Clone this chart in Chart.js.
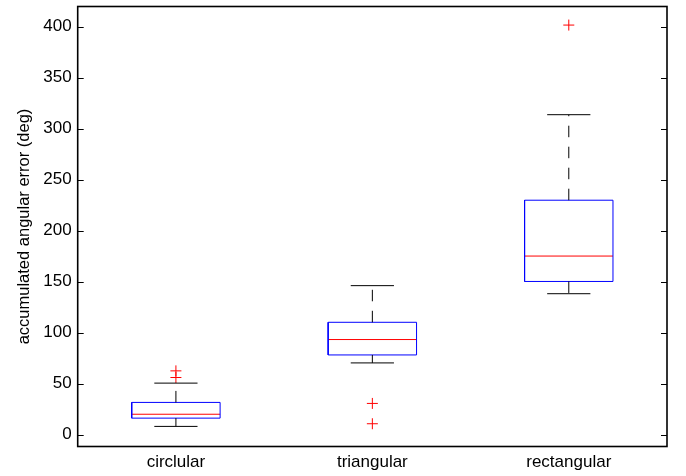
<!DOCTYPE html>
<html>
<head>
<meta charset="utf-8">
<script src="https://cdn.jsdelivr.net/npm/chart.js@4/dist/chart.umd.min.js"></script>
<style>
  html, body { margin: 0; padding: 0; background: #fff; }
  canvas { display: block; }
</style>
</head>
<body>
<canvas id="c" width="686" height="476"></canvas>
<script>
// Box plot summary per shape (deg)
const categories = ['circlular', 'triangular', 'rectangular'];
const whiskerLow = [8.2, 70.4, 138.2];
const q1 = [16.3, 78.2, 150.2];
const median = [20.1, 93.3, 175.1];
const q3 = [31.7, 110.2, 229.8];
const whiskerHigh = [50.6, 146.1, 313.6];
const outliers = [[56.1, 62.6], [10.8, 30.7], [401.4]];
const yTicks = [0, 50, 100, 150, 200, 250, 300, 350, 400];

// Drawing geometry in category units
const boxHalf = 0.225;
const capHalf = 0.11;

// Build a line-segment series with gaps between segments
function segments(list) {
  const out = [];
  list.forEach(([x1, y1, x2, y2]) => {
    out.push({x: x1, y: y1}, {x: x2, y: y2}, {x: x2, y: null});
  });
  return out;
}

const boxes = [];
categories.forEach((_, i) => {
  const x = i + 1;
  boxes.push({x: x - boxHalf, y: q1[i]}, {x: x + boxHalf, y: q1[i]},
             {x: x + boxHalf, y: q3[i]}, {x: x - boxHalf, y: q3[i]},
             {x: x - boxHalf, y: q1[i]}, {x: x - boxHalf, y: null});
});
const medians = segments(categories.map((_, i) => [i + 1 - boxHalf, median[i], i + 1 + boxHalf, median[i]]));
const whiskers = segments(categories.flatMap((_, i) => [
  [i + 1, q3[i], i + 1, whiskerHigh[i]],
  [i + 1, q1[i], i + 1, whiskerLow[i]]
]));
const caps = segments(categories.flatMap((_, i) => [
  [i + 1 - capHalf, whiskerHigh[i], i + 1 + capHalf, whiskerHigh[i]],
  [i + 1 - capHalf, whiskerLow[i], i + 1 + capHalf, whiskerLow[i]]
]));
const outlierPoints = outliers.flatMap((vals, i) => vals.map(v => ({x: i + 1, y: v})));

const lineBase = { type: 'line', pointRadius: 0, borderWidth: 1, tension: 0, spanGaps: false, fill: false };

// Frame plus inward tick marks on both vertical sides
const framePlugin = {
  id: 'frame',
  afterDraw(chart) {
    const {ctx, chartArea: a, scales: {y}} = chart;
    ctx.save();
    ctx.strokeStyle = '#000';
    ctx.lineWidth = 1;
    ctx.beginPath();
    yTicks.forEach(v => {
      const p = Math.round(y.getPixelForValue(v)) + 0.5;
      ctx.moveTo(a.left, p); ctx.lineTo(a.left + 6, p);
      ctx.moveTo(a.right, p); ctx.lineTo(a.right - 6, p);
    });
    ctx.stroke();
    ctx.lineWidth = 1.6;
    ctx.strokeRect(a.left, a.top, a.right - a.left, a.bottom - a.top);
    ctx.restore();
  }
};

const family = "'Liberation Sans', Arial, Helvetica, sans-serif";
const tickFont = { family, size: 17 };
const titleFont = { family, size: 16.5 };

new Chart(document.getElementById('c'), {
  type: 'line',
  data: {
    datasets: [
      Object.assign({}, lineBase, { data: whiskers, borderColor: '#000', borderDash: [11.5, 9.5] }),
      Object.assign({}, lineBase, { data: caps, borderColor: '#000' }),
      Object.assign({}, lineBase, { data: boxes, borderColor: '#0000ff' }),
      Object.assign({}, lineBase, { data: medians, borderColor: '#ff0000' }),
      {
        type: 'scatter', data: outlierPoints, pointStyle: 'cross', pointRadius: 5.5,
        borderColor: '#ff0000', backgroundColor: '#ff0000', borderWidth: 1, showLine: false
      }
    ]
  },
  options: {
    responsive: false,
    animation: false,
    layout: { padding: { top: 6, right: 19, left: 0, bottom: 0 } },
    plugins: { legend: { display: false }, tooltip: { enabled: false } },
    scales: {
      x: {
        type: 'linear', min: 0.5, max: 3.5,
        afterBuildTicks: s => { s.ticks = categories.map((_, i) => ({ value: i + 1 })); },
        afterFit: s => { s.height = 29.5; s.paddingLeft = 0; s.paddingRight = 0; },
        grid: { display: false, drawTicks: false },
        border: { display: false },
        ticks: {
          color: '#000', font: tickFont, padding: 6, maxRotation: 0, autoSkip: false,
          callback: v => categories[v - 1]
        }
      },
      y: {
        type: 'linear', min: -11.5, max: 419.6,
        afterBuildTicks: s => { s.ticks = yTicks.map(v => ({ value: v })); },
        afterFit: s => { s.width = 77.7; s.paddingTop = 0; s.paddingBottom = 0; },
        grid: { display: false, drawTicks: false },
        border: { display: false },
        ticks: { color: '#000', font: tickFont, padding: 6 },
        title: {
          display: true, text: 'accumulated angular error (deg)', color: '#000', font: titleFont,
          padding: { top: 15, bottom: 0 }
        }
      }
    }
  },
  plugins: [framePlugin]
});
</script>
</body>
</html>
